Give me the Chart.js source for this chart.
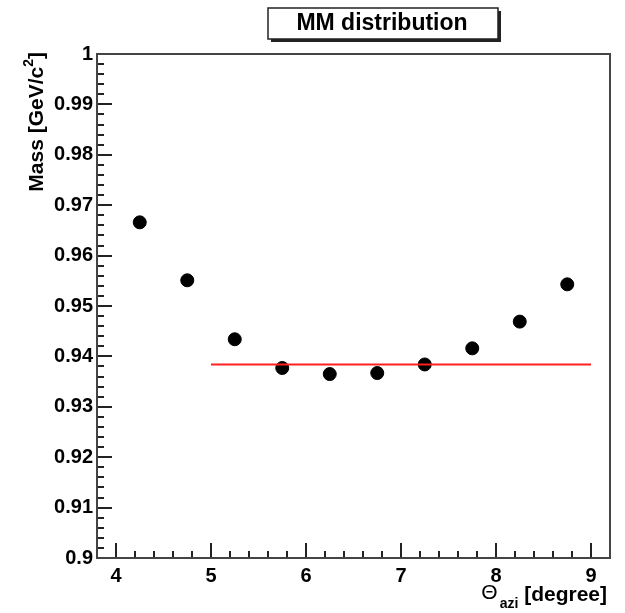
<!DOCTYPE html>
<html>
<head>
<meta charset="utf-8">
<script src="https://cdn.jsdelivr.net/npm/chart.js@4"></script>
<style>
  html, body { margin: 0; padding: 0; background: #fff; }
  #wrap { width: 625px; height: 613px; }
</style>
</head>
<body>
<div id="wrap"><canvas id="mmChart" width="625" height="613"></canvas></div>
<script>
// data
const thetaAzi = [4.25, 4.75, 5.25, 5.75, 6.25, 6.75, 7.25, 7.75, 8.25, 8.75];
const massValues = [0.9666, 0.9551, 0.9434, 0.9377, 0.9365, 0.9367, 0.9384, 0.9416, 0.9469, 0.9543];
const fitX = [5, 9];
const fitMass = [0.9384, 0.9384];
const xRange = [3.8, 9.2];
const yRange = [0.9, 1.0];

const FONT = '"Liberation Sans", Arial, Helvetica, sans-serif';

// inner ticks, frame, title box and axis titles (ROOT style)
const rootStyle = {
  id: 'rootStyle',
  afterDraw(chart) {
    const ctx = chart.ctx;
    const a = chart.chartArea;
    const xs = chart.scales.x, ys = chart.scales.y;
    ctx.save();
    ctx.strokeStyle = '#222';
    ctx.lineWidth = 2;
    xs.ticks.forEach(t => {
      const px = Math.round(xs.getPixelForValue(t.value));
      if (px <= a.left + 1 || px >= a.right - 1) return;
      const major = Math.abs(t.value - Math.round(t.value)) < 1e-6;
      ctx.beginPath();
      ctx.moveTo(px, a.bottom);
      ctx.lineTo(px, a.bottom - (major ? 15 : 7));
      ctx.stroke();
    });
    ys.ticks.forEach(t => {
      const py = Math.round(ys.getPixelForValue(t.value));
      if (py <= a.top + 1 || py >= a.bottom - 1) return;
      const major = Math.abs(t.value * 100 - Math.round(t.value * 100)) < 1e-6;
      ctx.beginPath();
      ctx.moveTo(a.left, py);
      ctx.lineTo(a.left + (major ? 15 : 7), py);
      ctx.stroke();
    });
    // frame
    ctx.strokeStyle = '#444';
    ctx.strokeRect(a.left, a.top, a.right - a.left, a.bottom - a.top);

    // title box with shadow
    ctx.fillStyle = '#222';
    ctx.fillRect(271, 11, 230, 31);
    ctx.fillStyle = '#fff';
    ctx.fillRect(268, 8, 230, 31);
    ctx.strokeStyle = '#222';
    ctx.lineWidth = 1.5;
    ctx.strokeRect(268, 8, 230, 31);
    ctx.fillStyle = '#000';
    ctx.font = 'bold 23px ' + FONT;
    ctx.textAlign = 'center';
    ctx.textBaseline = 'middle';
    ctx.fillText('MM distribution', 382, 24);

    // y axis title
    ctx.save();
    ctx.translate(43, 52);
    ctx.rotate(-Math.PI / 2);
    ctx.textAlign = 'right';
    ctx.textBaseline = 'alphabetic';
    ctx.font = 'bold 21px ' + FONT;
    ctx.fillText(']', 0, 0);
    let w = ctx.measureText(']').width;
    ctx.font = 'bold 14px ' + FONT;
    ctx.fillText('2', -w, -10);
    w += ctx.measureText('2').width;
    ctx.font = 'bold 21px ' + FONT;
    ctx.fillText('Mass [GeV/c', -w, 0);
    ctx.restore();

    // x axis title
    ctx.textAlign = 'right';
    ctx.textBaseline = 'alphabetic';
    ctx.font = 'bold 21px ' + FONT;
    ctx.fillText('[degree]', 607, 601);
    let xw = ctx.measureText('[degree] ').width;
    ctx.font = 'bold 14px ' + FONT;
    ctx.fillText('azi', 607 - xw, 608);
    xw += ctx.measureText('azi').width + 2;
    ctx.font = '21px ' + FONT;
    ctx.fillText('\u0398', 607 - xw, 599);
    ctx.restore();
  }
};

new Chart(document.getElementById('mmChart').getContext('2d'), {
  type: 'scatter',
  data: {
    datasets: [{
      label: 'MM',
      data: thetaAzi.map((x, i) => ({ x: x, y: massValues[i] })),
      backgroundColor: '#000',
      borderColor: '#000',
      pointRadius: 6.5,
      pointHoverRadius: 6.5,
      order: 1
    }, {
      label: 'fit',
      type: 'line',
      data: fitX.map((x, i) => ({ x: x, y: fitMass[i] })),
      borderColor: '#ff2020',
      borderWidth: 2,
      pointRadius: 0,
      fill: false,
      order: 0
    }]
  },
  options: {
    responsive: false,
    animation: false,
    layout: { padding: { top: 54, right: 15, left: 0, bottom: 0 } },
    plugins: {
      legend: { display: false },
      tooltip: { enabled: false }
    },
    scales: {
      x: {
        type: 'linear',
        min: xRange[0],
        max: xRange[1],
        afterFit: s => { s.height = 55; },
        grid: { display: false, drawTicks: false },
        border: { display: false },
        ticks: {
          stepSize: 0.2,
          autoSkip: false,
          maxRotation: 0,
          padding: 6,
          color: '#000',
          font: { family: FONT, size: 20, weight: 'bold' },
          callback: v => Math.abs(v - Math.round(v)) < 1e-6 ? String(Math.round(v)) : ''
        }
      },
      y: {
        type: 'linear',
        min: yRange[0],
        max: yRange[1],
        afterFit: s => { s.width = 97; },
        grid: { display: false, drawTicks: false },
        border: { display: false },
        ticks: {
          stepSize: 0.002,
          autoSkip: false,
          padding: 4,
          color: '#000',
          font: { family: FONT, size: 20, weight: 'bold' },
          callback: v => {
            const c = Math.round(v * 1000);
            return c % 10 === 0 ? String(+(c / 1000).toFixed(2)) : '';
          }
        }
      }
    }
  },
  plugins: [rootStyle]
});
</script>
</body>
</html>
